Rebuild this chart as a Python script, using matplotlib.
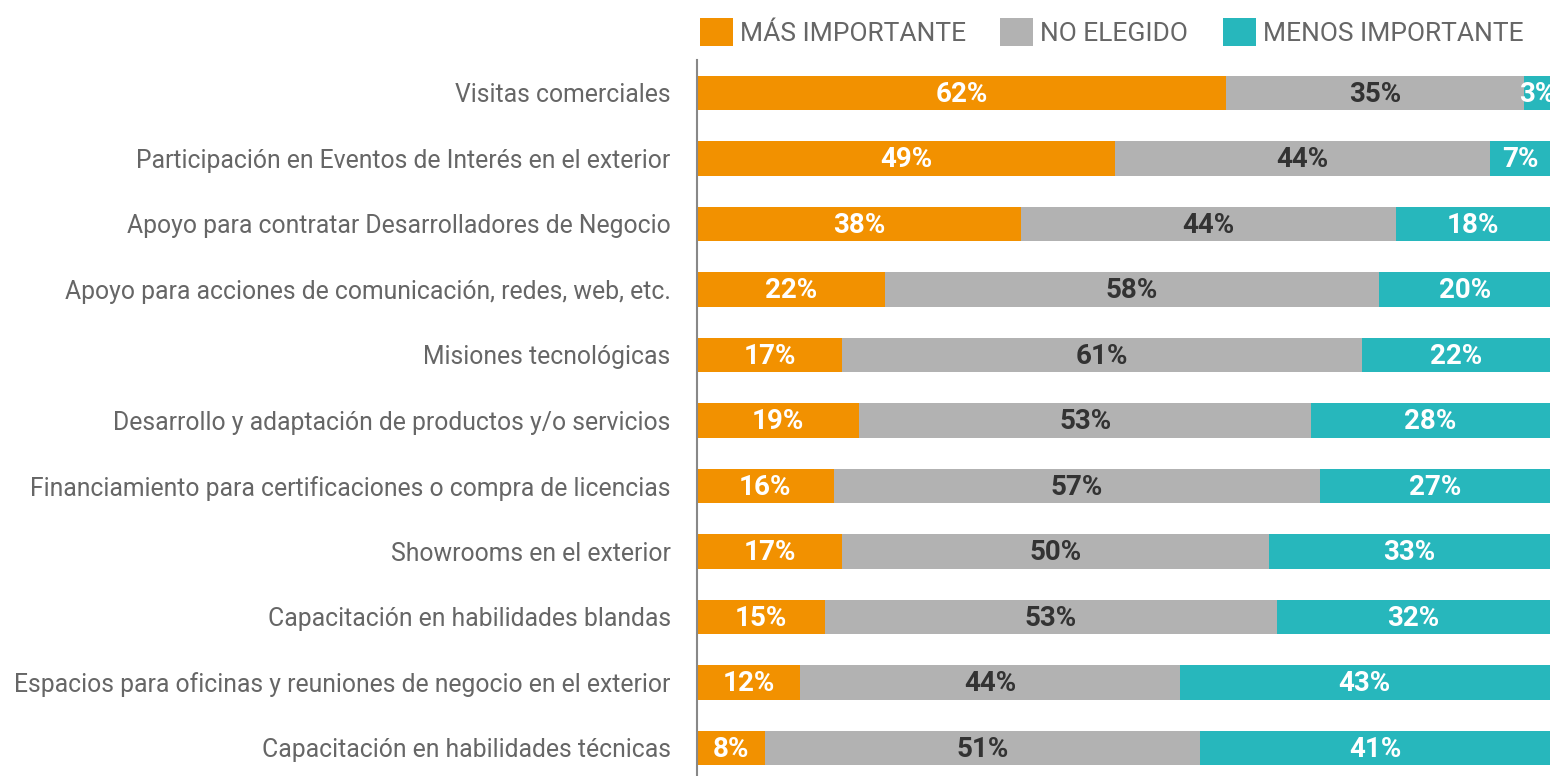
import matplotlib
matplotlib.use('Agg')
import matplotlib.pyplot as plt
from matplotlib.patches import Patch
import numpy as np

plt.rcParams['font.family'] = ['Roboto', 'DejaVu Sans']

categories = [
    'Visitas comerciales',
    'Participación en Eventos de Interés en el exterior',
    'Apoyo para contratar Desarrolladores de Negocio',
    'Apoyo para acciones de comunicación, redes, web, etc.',
    'Misiones tecnológicas',
    'Desarrollo y adaptación de productos y/o servicios',
    'Financiamiento para certificaciones o compra de licencias',
    'Showrooms en el exterior',
    'Capacitación en habilidades blandas',
    'Espacios para oficinas y reuniones de negocio en el exterior',
    'Capacitación en habilidades técnicas',
]
mas_importante = [62, 49, 38, 22, 17, 19, 16, 17, 15, 12, 8]
no_elegido = [35, 44, 44, 58, 61, 53, 57, 50, 53, 44, 51]
menos_importante = [3, 7, 18, 20, 22, 28, 27, 33, 32, 43, 41]
series_names = ['MÁS IMPORTANTE', 'NO ELEGIDO', 'MENOS IMPORTANTE']

colors = ['#F29100', '#B2B2B2', '#27B7BC']
text_colors = ['white', '#333333', 'white']

data = np.array([mas_importante, no_elegido, menos_importante], dtype=float)
# bars are drawn as share of the row total so each row fills the width
shares = data / data.sum(axis=0) * 100

fig = plt.figure(figsize=(15.5, 7.76), dpi=100)
ax = fig.add_axes([0.4497, -0.0061, 0.5503, 0.9285])

y = np.arange(len(categories))
left = np.zeros(len(categories))
for k in range(3):
    ax.barh(y, shares[k], left=left, height=0.53, color=colors[k], edgecolor='none')
    for i in range(len(categories)):
        ax.text(left[i] + shares[k][i] / 2, y[i] + 0.02, f'{int(data[k][i])}%',
                ha='center', va='center', color=text_colors[k],
                fontsize=20, fontweight='bold')
    left += shares[k]

ax.set_xlim(0, 100)
ax.set_ylim(len(categories) - 0.5, -0.5)
ax.set_yticks(y)
ax.set_yticklabels(categories, fontsize=17.8, color='#666666')
ax.tick_params(axis='y', length=0, pad=19)
ax.set_xticks([])
for s in ['top', 'right', 'bottom']:
    ax.spines[s].set_visible(False)
ax.spines['left'].set_color('#888888')
ax.spines['left'].set_linewidth(1.5)

handles = [Patch(facecolor=c, edgecolor='none') for c in colors]
leg = fig.legend(handles, series_names, loc='upper left', bbox_to_anchor=(0.4395, 1.0),
                 ncol=3, frameon=False, fontsize=19, handlelength=1.25, handleheight=1.22,
                 handletextpad=0.27, columnspacing=1.3, borderaxespad=0.3)
for t in leg.get_texts():
    t.set_color('#666666')

fig.savefig('out.png', dpi=100)
